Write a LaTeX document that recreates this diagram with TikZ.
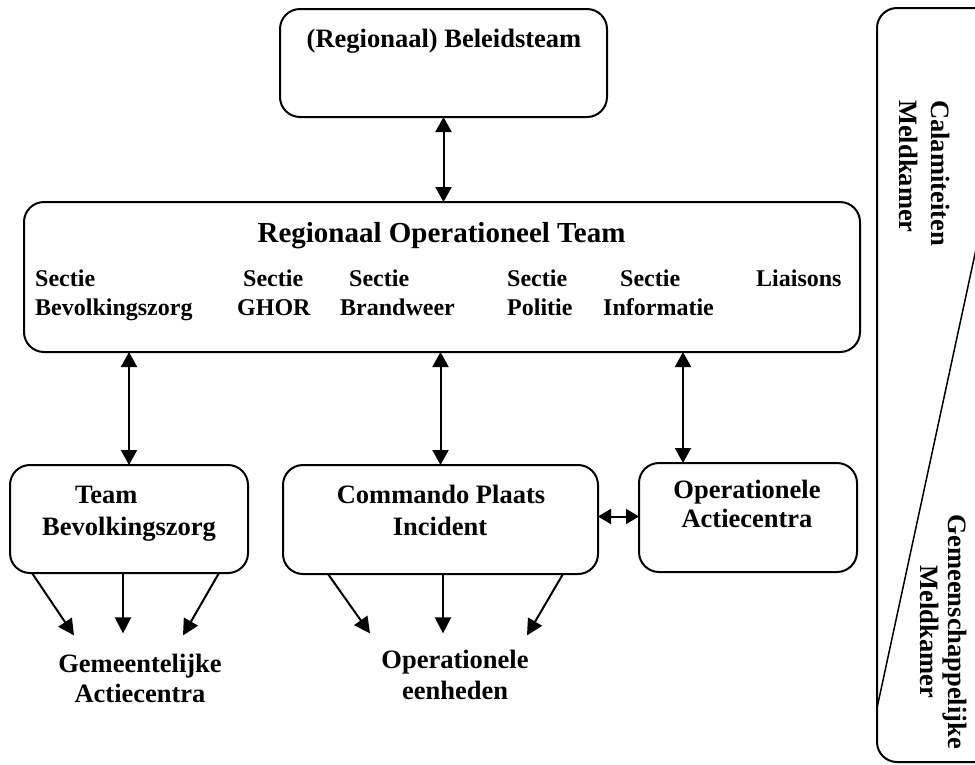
\documentclass[tikz,border=0pt]{standalone}
\usepackage{fontspec}
\setmainfont{Liberation Serif}
\usetikzlibrary{arrows.meta,calc}
\begin{document}
\begin{tikzpicture}[x=1pt,y=-1pt,
  box/.style={draw, line width=2pt, rounded corners=20pt, outer sep=0pt, inner sep=0pt, anchor=north west},
  big/.style={inner sep=0pt, font=\bfseries\fontsize{26.5}{30}\selectfont},
  ttl/.style={inner sep=0pt, anchor=base, font=\bfseries\fontsize{29}{33}\selectfont},
  sec/.style={inner sep=0pt, anchor=base west, font=\bfseries\fontsize{24}{28}\selectfont},
  link/.style={line width=2pt, -{Triangle[length=16pt,width=16pt]}},
  dlink/.style={line width=2pt, {Triangle[length=15pt,width=16pt]}-{Triangle[length=15pt,width=16pt]}},
  hlink/.style={line width=2pt, {Triangle[length=13pt,width=15pt]}-{Triangle[length=13pt,width=15pt]}},
]
\useasboundingbox (0,0) rectangle (975,764);
\clip (0,0) rectangle (975,764);

% boxes
\node[box, minimum width=327pt, minimum height=108pt] (bt) at (280,9) {};
\node[box, minimum width=836pt, minimum height=150pt] (rot) at (24,202) {};
\node[box, minimum width=238pt, minimum height=108pt] (tb) at (10,465) {};
\node[box, minimum width=315pt, minimum height=109pt] (cpi) at (283,465) {};
\node[box, minimum width=218pt, minimum height=109pt] (oa) at (639,463) {};

% right panel
\draw[line width=2pt, rounded corners=20pt] (1010,8) -- (877,8) -- (877,762) -- (1010,762);
\draw[line width=1.5pt] (978,240) -- (877,708);

% texts
\node[big, anchor=base] (btt) at (444,47) {(Regionaal) Beleidsteam};
\node[ttl] (rott) at (441.5,242) {Regionaal Operationeel Team};
\node[sec] (s1a) at (35,286) {Sectie};
\node[sec] (s1b) at (35,315) {Bevolkingszorg};
\node[sec] (s2a) at (243,286) {Sectie};
\node[sec] (s2b) at (237,315) {GHOR};
\node[sec] (s3a) at (349,286) {Sectie};
\node[sec] (s3b) at (340,315) {Brandweer};
\node[sec] (s4a) at (507,286) {Sectie};
\node[sec] (s4b) at (507,315) {Politie};
\node[sec] (s5a) at (620,286) {Sectie};
\node[sec] (s5b) at (603,315) {Informatie};
\node[sec] (s6) at (756,286) {Liaisons};

\node[big, anchor=base west] (tb1) at (75,503) {Team};
\node[big, anchor=base west] (tb2) at (42,535) {Bevolkingszorg};
\node[big, anchor=base] (cp1) at (441,503) {Commando Plaats};
\node[big, anchor=base] (cp2) at (440,535) {Incident};
\node[big, anchor=base] (oa1) at (747,498) {Operationele};
\node[big, anchor=base] (oa2) at (747,527) {Actiecentra};
\node[big, anchor=base] (ga1) at (140,672) {Gemeentelijke};
\node[big, anchor=base] (ga2) at (140,702) {Actiecentra};
\node[big, anchor=base] (oe1) at (455,668) {Operationele};
\node[big, anchor=base] (oe2) at (455,699) {eenheden};

\node[big, anchor=base west, rotate=-90] (cm1) at (931,100) {Calamiteiten};
\node[big, anchor=base west, rotate=-90] (cm2) at (899,100) {Meldkamer};
\node[big, anchor=base, rotate=-90] (gm1) at (948,632) {Gemeenschappelijke};
\node[big, anchor=base, rotate=-90] (gm2) at (920,632) {Meldkamer};

% connectors
\draw[dlink] (bt.south) -- (bt.south |- rot.north);
\draw[dlink] (rot.south -| tb.north) -- (tb.north);
\draw[dlink] (rot.south -| cpi.north) -- (cpi.north);
\coordinate (oatop) at ($(oa.north west)+(44,0)$);
\draw[dlink] (rot.south -| oatop) -- (oatop);
\draw[hlink] ($(cpi.east)+(0,-3)$) -- ($(cpi.east -| oa.west)+(0,-3)$);

\coordinate (ga) at (ga1.north);
\draw[link] ($(tb.south west)+(22,0)$) -- ($(ga)+(-66,-18)$);
\draw[link] ($(tb.south west)+(113,0)$) -- ($(ga)+(-17,-20)$);
\draw[link] ($(tb.south west)+(209,0)$) -- ($(ga)+(43,-18)$);

\coordinate (oe) at (oe1.north);
\draw[link] ($(cpi.south west)+(45,0)$) -- ($(oe)+(-85,-16)$);
\draw[link] ($(cpi.south west)+(160,0)$) -- ($(oe)+(-12,-16)$);
\draw[link] ($(cpi.south west)+(280,0)$) -- ($(oe)+(72,-14)$);
\end{tikzpicture}
\end{document}
